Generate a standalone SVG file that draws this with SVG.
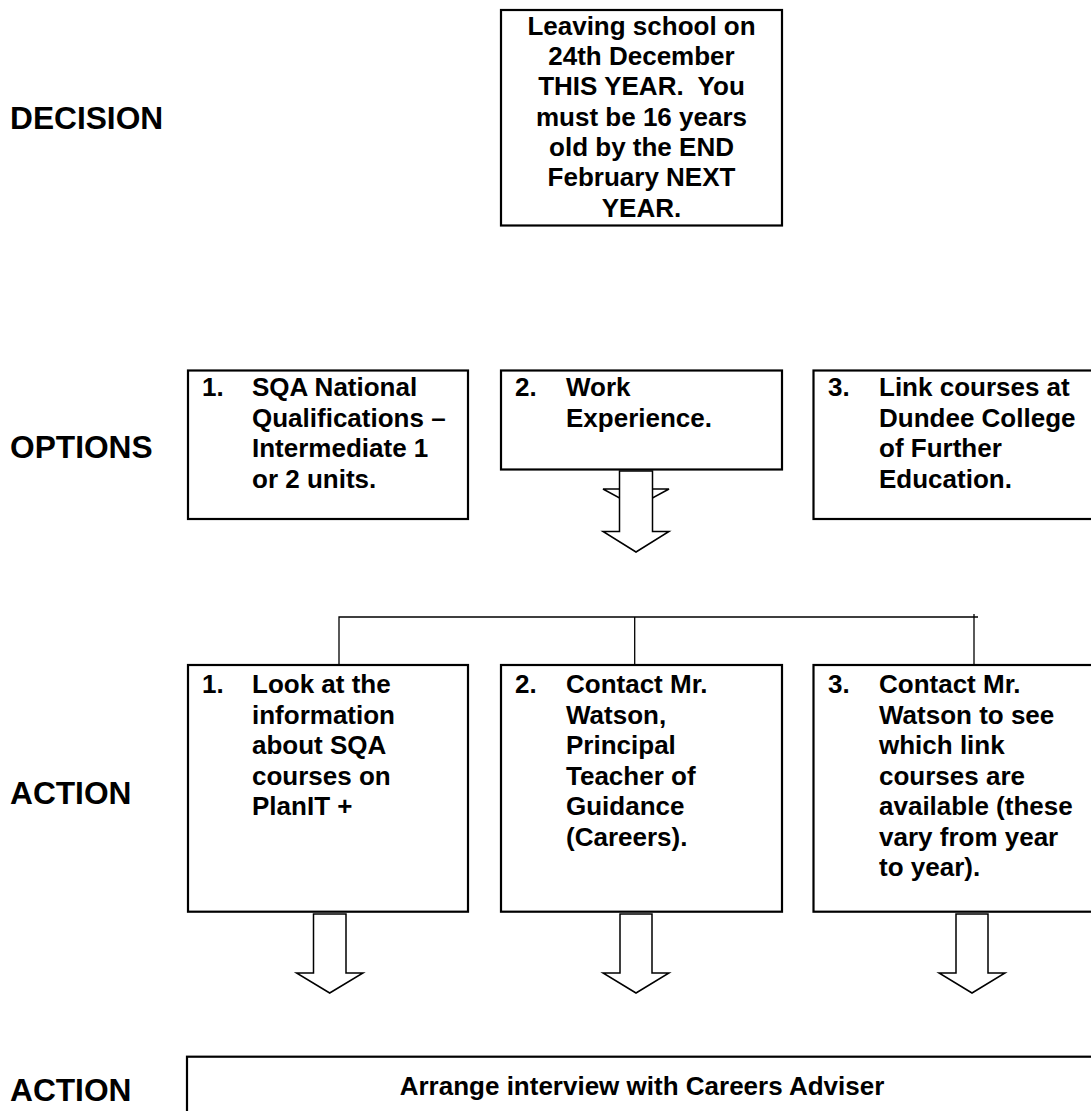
<svg xmlns="http://www.w3.org/2000/svg" width="1091" height="1111" viewBox="0 0 1091 1111">
<style>
.box{fill:#fff;stroke:#000;stroke-width:2.2}
.t{font-family:"Liberation Sans",Arial,sans-serif;font-weight:bold;font-size:26px;fill:#000}
.lbl{font-family:"Liberation Sans",Arial,sans-serif;font-weight:bold;font-size:31.7px;fill:#000}
.c{text-anchor:middle}
.arr{fill:#fff;stroke:#000;stroke-width:1.5;stroke-linejoin:miter}
.ln{fill:none;stroke:#000;stroke-width:1.3}
</style>
<rect width="1091" height="1111" fill="#fff"/>

<g id="labels">
<text class="lbl" x="10" y="129">DECISION</text>
<text class="lbl" x="10" y="457.5">OPTIONS</text>
<text class="lbl" x="10" y="804">ACTION</text>
<text class="lbl" x="10" y="1101">ACTION</text>
</g>

<g id="decision">
<rect class="box" x="501" y="10" width="281" height="215.5"/>
<text class="t c" x="641.5" y="34.5" xml:space="preserve"><tspan x="641.5" y="34.5">Leaving school on</tspan><tspan x="641.5" y="64.8">24th December</tspan><tspan x="641.5" y="95.2">THIS YEAR.  You</tspan><tspan x="641.5" y="125.5">must be 16 years</tspan><tspan x="641.5" y="155.8">old by the END</tspan><tspan x="641.5" y="186.2">February NEXT</tspan><tspan x="641.5" y="216.5">YEAR.</tspan></text>
</g>

<g id="arrow-hidden-head">
<polygon class="arr" points="603,489 669,489 636,507"/>
</g>

<g id="option1">
<rect class="box" x="188" y="370.5" width="280" height="148.5"/>
<text class="t" x="202" y="396">1.</text>
<text class="t"><tspan x="252" y="396">SQA National</tspan><tspan x="252" y="426.5">Qualifications –</tspan><tspan x="252" y="457">Intermediate 1</tspan><tspan x="252" y="487.5">or 2 units.</tspan></text>
</g>

<g id="option2">
<rect class="box" x="501" y="370.5" width="281" height="99"/>
<text class="t" x="515" y="396">2.</text>
<text class="t"><tspan x="566" y="396">Work</tspan><tspan x="566" y="426.5">Experience.</tspan></text>
</g>

<g id="option3">
<rect class="box" x="813.5" y="370.5" width="290" height="148.5"/>
<text class="t" x="828" y="396">3.</text>
<text class="t"><tspan x="879" y="396">Link courses at</tspan><tspan x="879" y="426.5">Dundee College</tspan><tspan x="879" y="457">of Further</tspan><tspan x="879" y="487.5">Education.</tspan></text>
</g>

<g id="connectors">
<polygon class="arr" points="619.5,471 652.5,471 652.5,531.5 669,531.5 636,552 603,531.5 619.5,531.5"/>
<polyline class="ln" points="339,664 339,617 978,617"/>
<line class="ln" x1="634.7" y1="617" x2="634.7" y2="664"/>
<line class="ln" x1="974" y1="614" x2="974" y2="664"/>
<polygon class="arr" points="313.5,914 346,914 346,973 363,973 329.7,993 296.5,973 313.5,973"/>
<polygon class="arr" points="620,914 652,914 652,973 669,973 636,993 603,973 620,973"/>
<polygon class="arr" points="956,914 988,914 988,973 1005,973 972,993 939,973 956,973"/>
</g>

<g id="action1">
<rect class="box" x="188" y="665" width="280" height="246.7"/>
<text class="t" x="202" y="693">1.</text>
<text class="t"><tspan x="252" y="693">Look at the</tspan><tspan x="252" y="723.5">information</tspan><tspan x="252" y="754">about SQA</tspan><tspan x="252" y="784.5">courses on</tspan><tspan x="252" y="815">PlanIT +</tspan></text>
</g>

<g id="action2">
<rect class="box" x="501" y="665" width="281" height="246.7"/>
<text class="t" x="515" y="693">2.</text>
<text class="t"><tspan x="566" y="693">Contact Mr.</tspan><tspan x="566" y="723.5">Watson,</tspan><tspan x="566" y="754">Principal</tspan><tspan x="566" y="784.5">Teacher of</tspan><tspan x="566" y="815">Guidance</tspan><tspan x="566" y="845.5">(Careers).</tspan></text>
</g>

<g id="action3">
<rect class="box" x="813.5" y="665" width="290" height="246.7"/>
<text class="t" x="828" y="693">3.</text>
<text class="t"><tspan x="879" y="693">Contact Mr.</tspan><tspan x="879" y="723.5">Watson to see</tspan><tspan x="879" y="754">which link</tspan><tspan x="879" y="784.5">courses are</tspan><tspan x="879" y="815">available (these</tspan><tspan x="879" y="845.5">vary from year</tspan><tspan x="879" y="876">to year).</tspan></text>
</g>

<g id="final">
<rect class="box" x="187" y="1056.7" width="920" height="70"/>
<text class="t c" x="642" y="1095">Arrange interview with Careers Adviser</text>
</g>
</svg>
